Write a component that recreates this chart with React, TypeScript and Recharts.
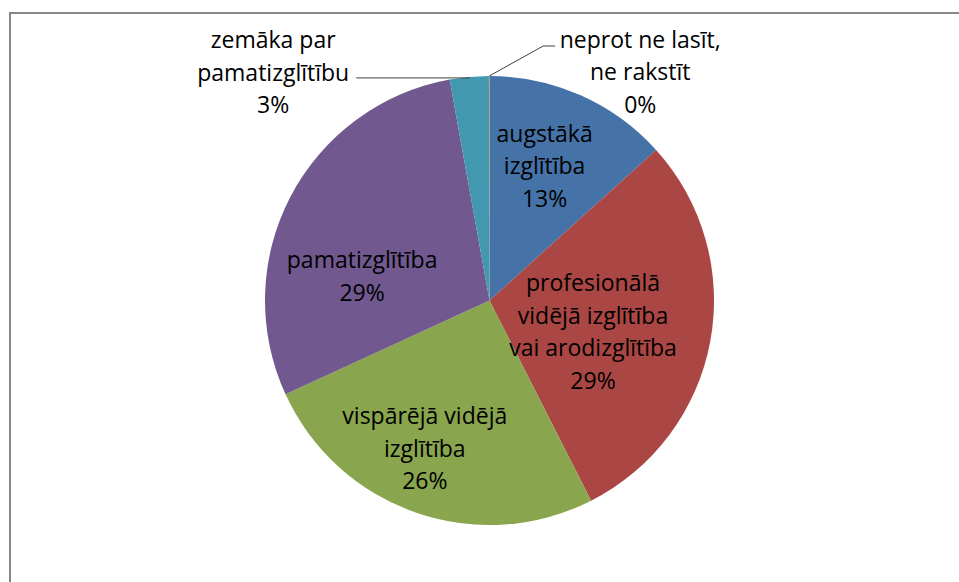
import React from "react";
import { PieChart, Pie, Cell } from "recharts";

// ---- data ----
const categories = [
  "augstākā izglītība",
  "profesionālā vidējā izglītība vai arodizglītība",
  "vispārējā vidējā izglītība",
  "pamatizglītība",
  "zemāka par pamatizglītību",
  "neprot ne lasīt, ne rakstīt",
];
const values = [13.3, 29.2, 25.6, 29.0, 2.8, 0.04];
const labelLines = [
  ["augstākā", "izglītība"],
  ["profesionālā", "vidējā izglītība", "vai arodizglītība"],
  ["vispārējā vidējā", "izglītība"],
  ["pamatizglītība"],
  ["zemāka par", "pamatizglītību"],
  ["neprot ne lasīt,", "ne rakstīt"],
];
const colors = ["#4572A7", "#AA4643", "#89A54E", "#71588F", "#4198AF", "#DB843D"];

// ---- layout (label placement, not data) ----
const inside = [
  { frac: 0.651, shift: 1.8 },
  { frac: 0.481, shift: -6.0 },
  { frac: 0.717, shift: -4.5 },
  { frac: 0.578, shift: 16.5 },
];
const outside: Record<number, { elbow: [number, number]; run: number; text: [number, number] }> = {
  4: { elbow: [0, 1], run: -113, text: [-83, -6] },
  5: { elbow: [54, -30], run: 12, text: [85, 25] },
};

const data = categories.map((name, i) => ({ name, value: values[i] }));

const FONT = "'Open Sans', sans-serif";
const FS = 23;
const LH = 32.5;
const RAD = Math.PI / 180;

const renderLabel = (props: any) => {
  const { cx, cy, midAngle, outerRadius, index, percent } = props;
  const lines = [...labelLines[index], `${Math.round(percent * 100)}%`];
  const n = lines.length;
  let tx = 0;
  let ty = 0;
  let leader: React.ReactNode = null;
  if (index < 4) {
    const a = (midAngle + inside[index].shift) * RAD;
    const r = outerRadius * inside[index].frac;
    tx = cx + r * Math.cos(-a);
    ty = cy + r * Math.sin(-a);
  } else {
    const cfg = outside[index];
    const a = midAngle * RAD;
    const px = cx + outerRadius * Math.cos(-a);
    const py = cy + outerRadius * Math.sin(-a);
    const ex = px + cfg.elbow[0];
    const ey = py + cfg.elbow[1];
    const endX = ex + cfg.run;
    leader = (
      <polyline
        points={`${px},${py} ${ex},${ey} ${endX},${ey}`}
        fill="none"
        stroke="#404040"
        strokeWidth={1}
      />
    );
    tx = endX + cfg.text[0];
    ty = ey + cfg.text[1];
  }
  return (
    <g key={`lbl-${index}`}>
      {leader}
      <text
        x={tx}
        y={ty}
        textAnchor="middle"
        fill="#000"
        fontFamily={FONT}
        fontSize={FS}
      >
        {lines.map((l, i) => (
          <tspan
            key={i}
            x={tx}
            y={ty + (i - (n - 1) / 2) * LH}
            dominantBaseline="central"
          >
            {l}
          </tspan>
        ))}
      </text>
    </g>
  );
};

export default function App() {
  return (
    <div
      style={{
        position: "absolute",
        left: 0,
        top: 0,
        width: 959,
        height: 582,
        background: "#fff",
        overflow: "hidden",
      }}
    >
      <div
        style={{
          position: "absolute",
          left: 9,
          top: 12,
          width: 1000,
          height: 700,
          borderLeft: "2px solid #878787",
          borderTop: "2px solid #878787",
        }}
      />
      <div style={{ position: "absolute", left: 0, top: 0 }}>
        <PieChart
          width={959}
          height={582}
          margin={{ top: 0, right: 0, bottom: 0, left: 0 }}
        >
          <Pie
            data={data}
            dataKey="value"
            nameKey="name"
            cx={489.5}
            cy={300.5}
            outerRadius={224.5}
            innerRadius={0}
            startAngle={90}
            endAngle={-270}
            stroke="none"
            label={renderLabel}
            labelLine={false}
            isAnimationActive={false}
          >
            {data.map((d, i) => (
              <Cell key={d.name} fill={colors[i]} />
            ))}
          </Pie>
        </PieChart>
      </div>
    </div>
  );
}
